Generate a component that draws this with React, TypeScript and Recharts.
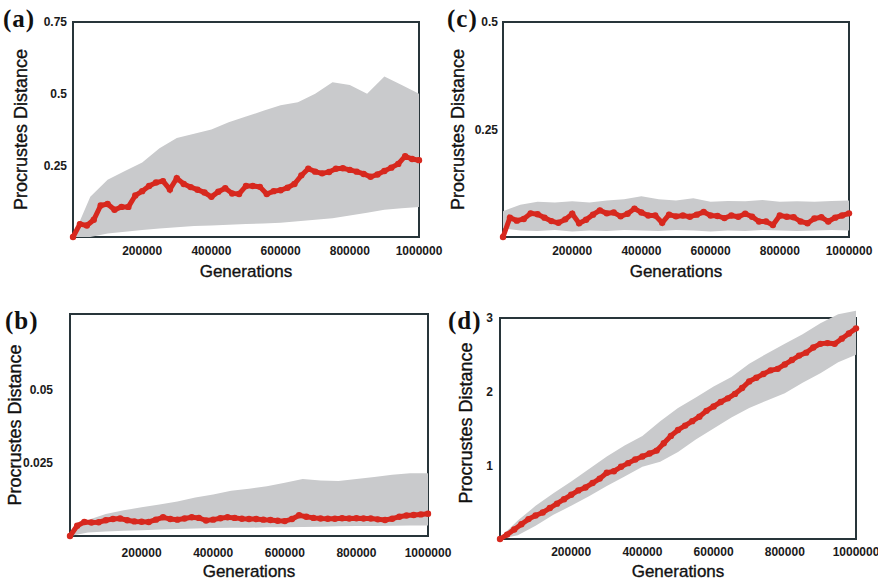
import { Area, ComposedChart, ReferenceArea, Scatter, XAxis, YAxis } from "recharts"

const GEN_TICKS = [200000, 400000, 600000, 800000, 1000000]

// generations where the red mean trace was read (every 20k)
const TRACE_GEN = [
  0, 20000, 40000, 60000, 80000, 100000, 120000, 140000, 160000, 180000,
  200000, 220000, 240000, 260000, 280000, 300000, 320000, 340000, 360000, 380000,
  400000, 420000, 440000, 460000, 480000, 500000, 520000, 540000, 560000, 580000,
  600000, 620000, 640000, 660000, 680000, 700000, 720000, 740000, 760000, 780000,
  800000, 820000, 840000, 860000, 880000, 900000, 920000, 940000, 960000, 980000,
  1000000,
]

// generations where the grey cloud envelope was read (every 50k)
const CLOUD_GEN = [
  0, 50000, 100000, 150000, 200000, 250000, 300000, 350000, 400000, 450000,
  500000, 550000, 600000, 650000, 700000, 750000, 800000, 850000, 900000, 950000,
  1000000,
]

const A_MEAN = [
  0, 0.045, 0.04, 0.06, 0.11, 0.115, 0.095, 0.105, 0.105, 0.145,
  0.16, 0.178, 0.19, 0.195, 0.166, 0.205, 0.185, 0.174, 0.165, 0.155,
  0.14, 0.158, 0.17, 0.152, 0.15, 0.178, 0.178, 0.175, 0.15, 0.16,
  0.163, 0.172, 0.185, 0.215, 0.238, 0.228, 0.222, 0.227, 0.238, 0.24,
  0.234, 0.228, 0.22, 0.21, 0.218, 0.23, 0.242, 0.255, 0.282, 0.272,
  0.268,
]
const A_HIGH = [0, 0.14, 0.2, 0.23, 0.26, 0.31, 0.345, 0.36, 0.375, 0.4, 0.42, 0.44, 0.46, 0.47, 0.5, 0.54, 0.53, 0.5, 0.56, 0.53, 0.5]
const A_LOW = [0, 0, 0.012, 0.018, 0.024, 0.03, 0.034, 0.038, 0.04, 0.043, 0.045, 0.047, 0.05, 0.055, 0.06, 0.065, 0.075, 0.085, 0.095, 0.1, 0.105]

const B_MEAN = [
  0, 0.0035, 0.0048, 0.0046, 0.0047, 0.0054, 0.0058, 0.006, 0.0054, 0.005,
  0.0049, 0.0048, 0.0056, 0.0064, 0.0058, 0.0056, 0.006, 0.0064, 0.0062, 0.0053,
  0.0056, 0.0061, 0.0064, 0.0062, 0.0059, 0.0058, 0.0058, 0.0056, 0.0055, 0.0052,
  0.0051, 0.0058, 0.0071, 0.0066, 0.0062, 0.006, 0.0059, 0.0059, 0.0061, 0.006,
  0.0061, 0.006, 0.006, 0.0057, 0.0055, 0.0059, 0.0066, 0.007, 0.0072, 0.0074,
  0.0076,
]
const B_HIGH = [0.001, 0.0055, 0.0075, 0.0088, 0.0098, 0.0108, 0.0118, 0.0132, 0.0142, 0.0155, 0.0162, 0.017, 0.0182, 0.0195, 0.019, 0.0188, 0.0195, 0.0202, 0.021, 0.0215, 0.0215]
const B_LOW = [0, 0.0012, 0.0015, 0.0018, 0.002, 0.0022, 0.0024, 0.0026, 0.0027, 0.0028, 0.0028, 0.003, 0.003, 0.0031, 0.0032, 0.0033, 0.0034, 0.0034, 0.0035, 0.0036, 0.0036]

const C_MEAN = [
  0, 0.045, 0.038, 0.042, 0.055, 0.053, 0.045, 0.037, 0.033, 0.041,
  0.054, 0.032, 0.04, 0.052, 0.062, 0.055, 0.057, 0.048, 0.054, 0.066,
  0.057, 0.05, 0.05, 0.033, 0.052, 0.048, 0.05, 0.047, 0.052, 0.058,
  0.05, 0.049, 0.044, 0.05, 0.047, 0.054, 0.047, 0.036, 0.036, 0.028,
  0.05, 0.047, 0.046, 0.036, 0.032, 0.043, 0.046, 0.036, 0.045, 0.05,
  0.055,
]
const C_HIGH = [0.06, 0.075, 0.082, 0.08, 0.083, 0.08, 0.085, 0.088, 0.095, 0.088, 0.085, 0.09, 0.082, 0.084, 0.083, 0.086, 0.082, 0.083, 0.082, 0.084, 0.085]
const C_LOW = [0.02, 0.015, 0.014, 0.016, 0.013, 0.015, 0.014, 0.016, 0.015, 0.014, 0.016, 0.015, 0.013, 0.015, 0.014, 0.016, 0.015, 0.014, 0.015, 0.016, 0.015]

const D_MEAN = [
  0, 0.06, 0.13, 0.2, 0.27, 0.32, 0.36, 0.42, 0.48, 0.54,
  0.6, 0.66, 0.7, 0.76, 0.82, 0.9, 0.92, 0.98, 1.03, 1.08,
  1.12, 1.16, 1.2, 1.3, 1.4, 1.48, 1.54, 1.6, 1.66, 1.74,
  1.8, 1.86, 1.91, 1.97, 2.05, 2.14, 2.19, 2.24, 2.29, 2.31,
  2.37, 2.43, 2.49, 2.53, 2.6, 2.65, 2.66, 2.65, 2.72, 2.79,
  2.86,
]
const D_HIGH = [0.02, 0.25, 0.45, 0.62, 0.78, 0.95, 1.12, 1.27, 1.4, 1.6, 1.78, 1.92, 2.07, 2.2, 2.38, 2.52, 2.65, 2.78, 2.93, 3.05, 3.1]
const D_LOW = [0, 0.05, 0.18, 0.33, 0.45, 0.58, 0.72, 0.85, 0.98, 1.05, 1.18, 1.35, 1.5, 1.65, 1.78, 1.88, 1.98, 2.12, 2.25, 2.4, 2.5]

const RED = "#d7281e"
const GREY = "#c9cacc"
const FRAME = "#28353a"
const SANS = "'Liberation Sans', Arial, sans-serif"

type PanelProps = {
  tag: string
  tagAt: [number, number]
  left: number
  top: number
  width: number
  height: number
  plotTop: number
  plotRight: number
  yWidth: number
  xHeight: number
  yMax: number
  frameTop: number
  yTicks: number[]
  yGap: number
  xGap: number
  yTitleX: number
  xTitleOffset: number
  mean: number[]
  high: number[]
  low: number[]
}

function Panel(p: PanelProps) {
  const cloud = CLOUD_GEN.map((x, i) => ({ x, band: [p.low[i], p.high[i]] }))
  const trace = TRACE_GEN.map((x, i) => ({ x, y: p.mean[i] }))
  const tickStyle = { fontSize: 12, fontWeight: 700, fill: "#1a1a1a", fontFamily: SANS }
  const titleStyle = { fill: "#111", stroke: "#111", strokeWidth: 0.35, fontFamily: SANS }

  return (
    <div style={{ position: "absolute", left: p.left, top: p.top, width: p.width, height: p.height }}>
      <ComposedChart
        width={p.width}
        height={p.height}
        data={cloud}
        margin={{ top: p.plotTop, right: p.plotRight, bottom: 0, left: 0 }}
      >
        <XAxis
          type="number"
          dataKey="x"
          domain={[0, 1000000]}
          ticks={GEN_TICKS}
          tickFormatter={(v) => String(v)}
          axisLine={false}
          tickLine={false}
          tickSize={0}
          tickMargin={p.xGap}
          height={p.xHeight}
          tick={tickStyle}
          label={{
            value: "Generations",
            position: "insideBottom",
            offset: p.xTitleOffset,
            style: { ...titleStyle, fontSize: 17 },
          }}
        />
        <YAxis
          type="number"
          domain={[0, p.yMax]}
          ticks={p.yTicks}
          axisLine={false}
          tickLine={false}
          tickSize={0}
          tickMargin={p.yGap}
          width={p.yWidth}
          tick={tickStyle}
          label={{
            value: "Procrustes Distance",
            angle: -90,
            position: "insideLeft",
            offset: p.yTitleX,
            style: { ...titleStyle, textAnchor: "middle", fontSize: 18 },
          }}
        />
        <ReferenceArea
          x1={0}
          x2={1000000}
          y1={0}
          y2={p.frameTop}
          fill="none"
          stroke={FRAME}
          strokeWidth={2}
          ifOverflow="visible"
        />
        <Area
          dataKey="band"
          type="linear"
          stroke="none"
          fill={GREY}
          fillOpacity={1}
          dot={false}
          activeDot={false}
          isAnimationActive={false}
        />
        <Scatter
          data={trace}
          dataKey="y"
          fill={RED}
          line={{ stroke: RED, strokeWidth: 5 }}
          lineType="joint"
          shape={(s: any) => <circle cx={s.cx} cy={s.cy} r={3.2} fill={RED} />}
          isAnimationActive={false}
        />
      </ComposedChart>
      <div
        style={{
          position: "absolute",
          left: p.tagAt[0],
          top: p.tagAt[1],
          fontFamily: "'Liberation Serif', 'Times New Roman', serif",
          fontWeight: 700,
          fontSize: 25,
          lineHeight: "24px",
          letterSpacing: 1,
          color: "#111",
        }}
      >
        {p.tag}
      </div>
    </div>
  )
}

export default function App() {
  return (
    <div
      style={{
        position: "absolute",
        left: 0,
        top: 0,
        width: 878,
        height: 582,
        background: "#fff",
        overflow: "hidden",
      }}
    >
      <Panel
        tag="(a)"
        tagAt={[3, 7]}
        left={0}
        top={0}
        width={462}
        height={290}
        plotTop={22}
        plotRight={43}
        yWidth={73}
        xHeight={53}
        yMax={0.75}
        frameTop={0.75}
        yTicks={[0.25, 0.5, 0.75]}
        yGap={6}
        xGap={9}
        yTitleX={21}
        xTitleOffset={13}
        mean={A_MEAN}
        high={A_HIGH}
        low={A_LOW}
      />
      <Panel
        tag="(c)"
        tagAt={[7, 7]}
        left={440}
        top={0}
        width={438}
        height={290}
        plotTop={22}
        plotRight={29}
        yWidth={63}
        xHeight={53}
        yMax={0.5}
        frameTop={0.5}
        yTicks={[0.25, 0.5]}
        yGap={5}
        xGap={9}
        yTitleX={18}
        xTitleOffset={13}
        mean={C_MEAN}
        high={C_HIGH}
        low={C_LOW}
      />
      <Panel
        tag="(b)"
        tagAt={[5, 19]}
        left={0}
        top={290}
        width={462}
        height={292}
        plotTop={24}
        plotRight={34}
        yWidth={70}
        xHeight={46}
        yMax={0.076}
        frameTop={0.076}
        yTicks={[0.025, 0.05]}
        yGap={17}
        xGap={12}
        yTitleX={15}
        xTitleOffset={5}
        mean={B_MEAN}
        high={B_HIGH}
        low={B_LOW}
      />
      <Panel
        tag="(d)"
        tagAt={[8, 19]}
        left={440}
        top={290}
        width={438}
        height={292}
        plotTop={17}
        plotRight={22}
        yWidth={60}
        xHeight={43}
        yMax={3.15}
        frameTop={3}
        yTicks={[1, 2, 3]}
        yGap={7}
        xGap={8}
        yTitleX={26}
        xTitleOffset={5}
        mean={D_MEAN}
        high={D_HIGH}
        low={D_LOW}
      />
    </div>
  )
}
